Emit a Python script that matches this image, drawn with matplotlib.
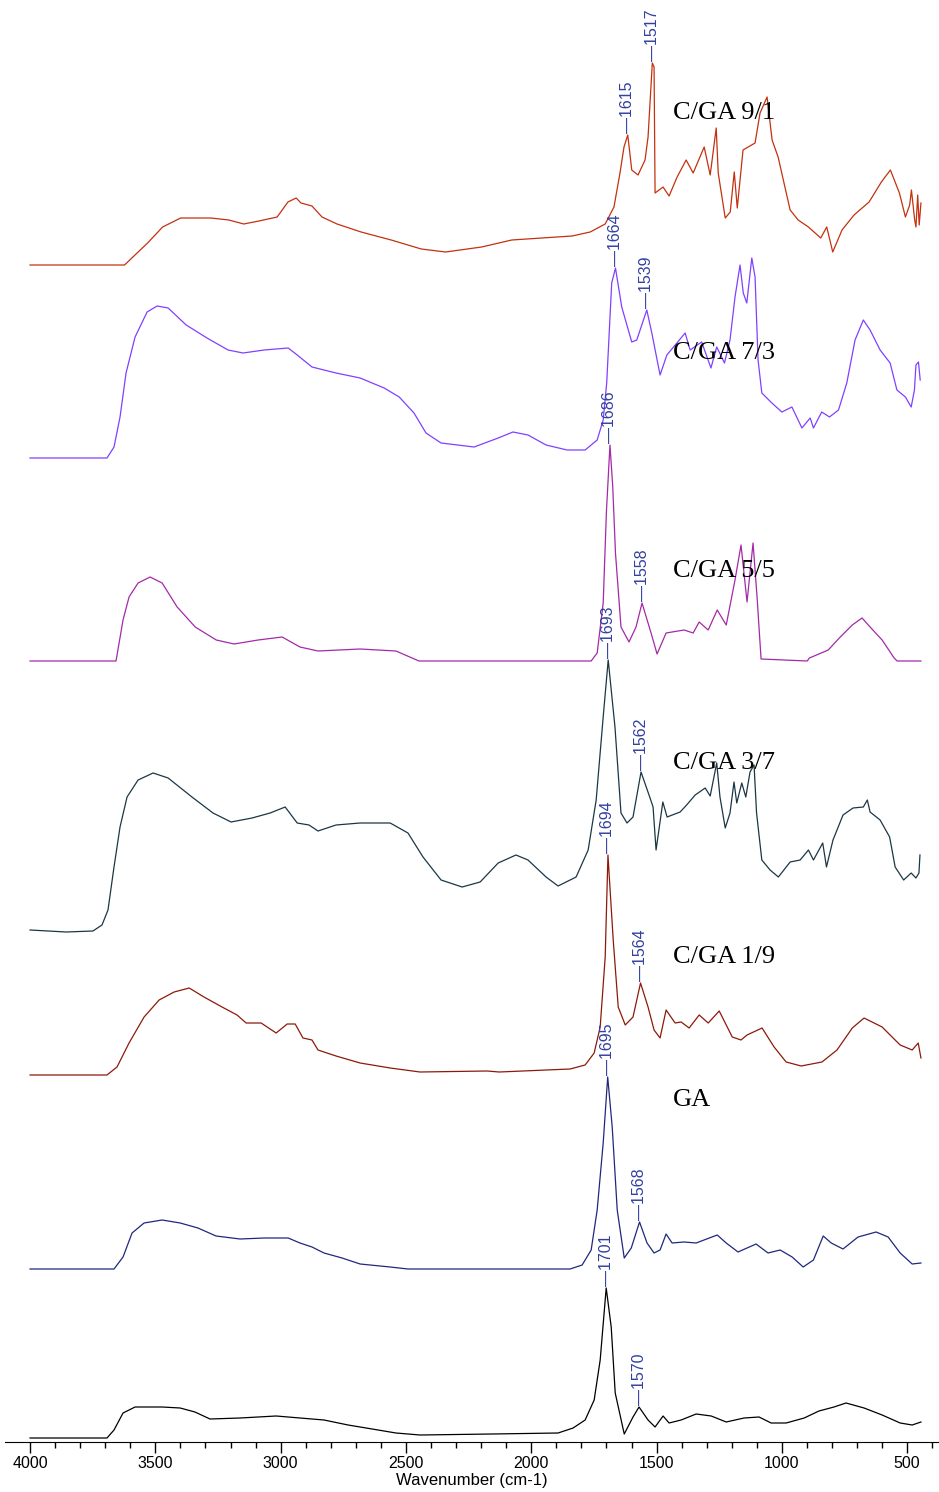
import matplotlib.pyplot as plt

# FTIR spectra of the C/GA series, stacked with vertical offsets
names = ["C/GA 9/1", "C/GA 7/3", "C/GA 5/5", "C/GA 3/7", "C/GA 1/9", "GA", ""]
colors = ["#c3310f", "#8040ff", "#a32aa8", "#1b3746", "#8c1a0a", "#1f287d", "#000000"]
offsets = [1177, 984, 781, 512, 367, 173, 4]

wn_91 = [4000, 3623, 3531, 3471, 3399, 3279, 3207, 3147, 3087, 3014, 2971, 2938, 2919, 2875,
         2835, 2775, 2679, 2559, 2439, 2342, 2198, 2078, 1958, 1837, 1765, 1705, 1670, 1646,
         1630, 1615, 1599, 1574, 1546, 1534, 1522, 1517, 1510, 1506, 1474, 1450, 1418, 1382,
         1354, 1310, 1286, 1262, 1254, 1226, 1206, 1190, 1178, 1155, 1107, 1087, 1059, 1039,
         1015, 967, 935, 894, 845, 821, 797, 760, 712, 652, 603, 567, 531, 507, 490, 483, 470,
         465, 458, 452, 445]
ab_91 = [0, 0, 22, 38, 47, 47, 45, 41, 44, 48, 63, 67, 62, 59,
         48, 41, 33, 25, 16, 13, 18, 25, 27, 29, 33, 41, 58, 92,
         118, 130, 95, 90, 105, 128, 180, 202, 198, 72, 78, 69, 88, 105,
         92, 118, 90, 137, 92, 47, 53, 93, 57, 115, 122, 152, 168, 125,
         108, 55, 45, 38, 27, 38, 13, 35, 50, 63, 83, 95, 72, 48, 60, 75, 45,
         38, 70, 40, 62]

wn_73 = [4000, 3693, 3665, 3641, 3617, 3581, 3533, 3493, 3449, 3377, 3294, 3210, 3150, 3066,
         2970, 2934, 2875, 2779, 2683, 2587, 2527, 2468, 2420, 2360, 2228, 2132, 2073, 2013,
         1941, 1857, 1785, 1737, 1713, 1699, 1679, 1664, 1639, 1599, 1579, 1539, 1519, 1486,
         1459, 1419, 1386, 1366, 1320, 1283, 1260, 1229, 1207, 1187, 1167, 1154, 1140, 1120,
         1107, 1095, 1080, 1040, 1000, 960, 920, 887, 874, 841, 810, 774, 741, 708, 675, 648,
         608, 568, 541, 507, 484, 471, 465, 455, 448]
ab_73 = [0, 0, 11, 41, 85, 121, 146, 152, 150, 133, 120, 108, 105, 108,
         110, 103, 91, 85, 80, 70, 61, 45, 25, 15, 11, 20, 26, 23,
         13, 8, 8, 18, 38, 75, 175, 190, 151, 116, 118, 148, 125, 83,
         103, 115, 125, 108, 116, 90, 111, 95, 118, 161, 193, 165, 155, 200,
         181, 98, 65, 55, 46, 51, 30, 40, 30, 46, 41, 48, 75, 118, 138, 128,
         108, 95, 68, 61, 51, 68, 93, 96, 78]

wn_55 = [4000, 3657, 3629, 3605, 3569, 3521, 3473, 3413, 3341, 3257, 3186, 3090, 2994, 2923,
         2851, 2683, 2540, 2448, 1761, 1737, 1713, 1700, 1686, 1675, 1664, 1642, 1610, 1582,
         1558, 1522, 1498, 1462, 1390, 1354, 1330, 1294, 1258, 1222, 1187, 1163, 1139, 1115,
         1099, 1083, 899, 890, 815, 767, 719, 680, 648, 600, 552, 540, 445]
ab_55 = [0, 0, 41, 64, 78, 84, 78, 54, 34, 21, 17, 21, 24, 14,
         10, 12, 10, 0, 0, 8, 58, 150, 216, 175, 108, 34, 19, 34,
         58, 28, 7, 28, 31, 28, 39, 31, 51, 36, 81, 116, 59, 118,
         64, 2, 0, 3, 11, 24, 36, 43, 34, 21, 3, 0, 0]

wn_37 = [4000, 3856, 3749, 3713, 3689, 3665, 3641, 3613, 3569, 3509, 3449, 3354, 3270, 3198,
         3114, 3042, 2982, 2934, 2887, 2851, 2779, 2683, 2563, 2492, 2432, 2360, 2276, 2204,
         2132, 2061, 2013, 1941, 1893, 1821, 1773, 1741, 1713, 1693, 1666, 1642, 1618, 1594,
         1562, 1526, 1514, 1502, 1475, 1458, 1406, 1380, 1346, 1306, 1286, 1260, 1247, 1226,
         1207, 1191, 1180, 1160, 1144, 1127, 1111, 1101, 1080, 1047, 1014, 967, 927, 894, 874,
         837, 822, 796, 756, 716, 675, 659, 648, 608, 570, 548, 514, 484, 465, 453, 449]
ab_37 = [0, -2, -1, 5, 20, 63, 103, 133, 150, 157, 152, 133, 117, 108,
         112, 117, 123, 107, 105, 99, 105, 107, 107, 97, 73, 50, 43, 48,
         67, 75, 70, 53, 44, 53, 80, 130, 213, 270, 203, 117, 107, 113,
         158, 132, 123, 80, 128, 113, 118, 125, 135, 142, 134, 167, 133, 102,
         117, 148, 127, 147, 133, 158, 165, 117, 70, 60, 53, 68, 70, 80, 70,
         87, 63, 90, 115, 122, 123, 130, 118, 110, 93, 63, 50, 57, 52, 57, 75]

wn_19 = [4000, 3693, 3653, 3605, 3545, 3485, 3425, 3365, 3306, 3234, 3174, 3138, 3078, 3018,
         2974, 2942, 2911, 2875, 2851, 2779, 2683, 2563, 2444, 2176, 2128, 1845, 1785, 1749,
         1725, 1705, 1694, 1673, 1653, 1625, 1594, 1564, 1534, 1510, 1486, 1462, 1426, 1402,
         1370, 1330, 1294, 1250, 1222, 1198, 1163, 1139, 1079, 1031, 983, 923, 840, 780, 719,
         672, 600, 528, 480, 456, 445]
ab_19 = [0, 0, 8, 32, 58, 75, 83, 87, 78, 68, 60, 52, 52, 42,
         51, 51, 37, 35, 25, 19, 12, 7, 3, 4, 3, 6, 10, 22,
         48, 118, 220, 135, 68, 50, 58, 92, 68, 45, 37, 65, 52, 53,
         47, 60, 52, 64, 50, 38, 35, 40, 47, 28, 13, 9, 13, 25, 47,
         57, 48, 30, 25, 32, 17]

wn_ga = [4000, 3665, 3629, 3593, 3545, 3473, 3401, 3330, 3258, 3162, 3066, 2970, 2923, 2875,
         2827, 2755, 2683, 2563, 2492, 1845, 1797, 1761, 1737, 1713, 1695, 1677, 1657, 1629,
         1601, 1568, 1538, 1510, 1486, 1462, 1438, 1390, 1342, 1258, 1222, 1175, 1103, 1055,
         1007, 959, 915, 874, 835, 803, 756, 696, 624, 576, 528, 480, 445]
ab_ga = [0, 0, 12, 36, 46, 49, 46, 41, 33, 30, 31, 31, 26, 22,
         16, 11, 5, 2, 0, 0, 4, 19, 59, 126, 192, 142, 59, 11,
         21, 47, 26, 16, 19, 35, 26, 27, 26, 34, 26, 17, 25, 16,
         19, 12, 2, 9, 33, 26, 20, 32, 37, 32, 16, 5, 6]

wn_ref = [4000, 3693, 3665, 3629, 3581, 3473, 3401, 3342, 3282, 3162, 3018, 2923, 2827, 2731,
          2635, 2540, 2444, 2156, 1893, 1833, 1785, 1749, 1725, 1701, 1681, 1665, 1629, 1594,
          1570, 1534, 1506, 1474, 1450, 1402, 1342, 1282, 1222, 1151, 1091, 1043, 983, 911,
          852, 792, 744, 672, 600, 528, 480, 445]
ab_ref = [0, 0, 8, 25, 31, 31, 30, 26, 19, 20, 22, 20, 18, 13,
          9, 5, 3, 4, 5, 10, 18, 38, 78, 150, 111, 45, 4, 21,
          31, 18, 11, 22, 15, 18, 24, 22, 16, 20, 21, 15, 15, 20,
          27, 31, 35, 30, 23, 15, 13, 16]

# labelled band positions for each spectrum
peaks = [[1615, 1517], [1664, 1539], [1686, 1558], [1693, 1562],
         [1694, 1564], [1695, 1568], [1701, 1570]]
label_y = [1329, 1089, 871, 679, 485, 342]

spectra = [(wn_91, ab_91), (wn_73, ab_73), (wn_55, ab_55), (wn_37, ab_37),
           (wn_19, ab_19), (wn_ga, ab_ga), (wn_ref, ab_ref)]

fig = plt.figure(figsize=(9.39, 14.92), dpi=100)
ax = fig.add_axes([5 / 939, 50 / 1492, 934 / 939, 1442 / 1492])

for (wn, ab), off, col, pk in zip(spectra, offsets, colors, peaks):
    y = [a + off for a in ab]
    ax.plot(wn, y, color=col, lw=0.9)
    for p in pk:
        yp = y[wn.index(p)]
        ax.annotate("\u2014" + str(p), (p, yp), xytext=(0, 1.5), textcoords="offset points",
                    rotation=90, ha="center", va="bottom", fontsize=11.5,
                    color="#3240a0", family="Liberation Sans")

for name, ly in zip(names, label_y):
    ax.text(1434, ly, name, ha="left", va="center", fontsize=19,
            family="Liberation Serif", color="black")

ax.set_xlim(4100, 373)
ax.set_ylim(0, 1442)
ax.set_xticks(range(4000, 499, -500))
ax.set_xticks(range(4000, 399, -100), minor=True)
ax.tick_params(axis="x", which="major", length=8, width=1, pad=2, labelsize=11.5)
ax.tick_params(axis="x", which="minor", length=4, width=1)
for lab in ax.get_xticklabels():
    lab.set_family("Liberation Sans")
ax.set_yticks([])
for s in ["left", "right", "top"]:
    ax.spines[s].set_visible(False)
ax.set_xlabel("Wavenumber (cm-1)", fontsize=12, family="Liberation Sans", labelpad=1.5)

fig.savefig("out.png", dpi=100)
